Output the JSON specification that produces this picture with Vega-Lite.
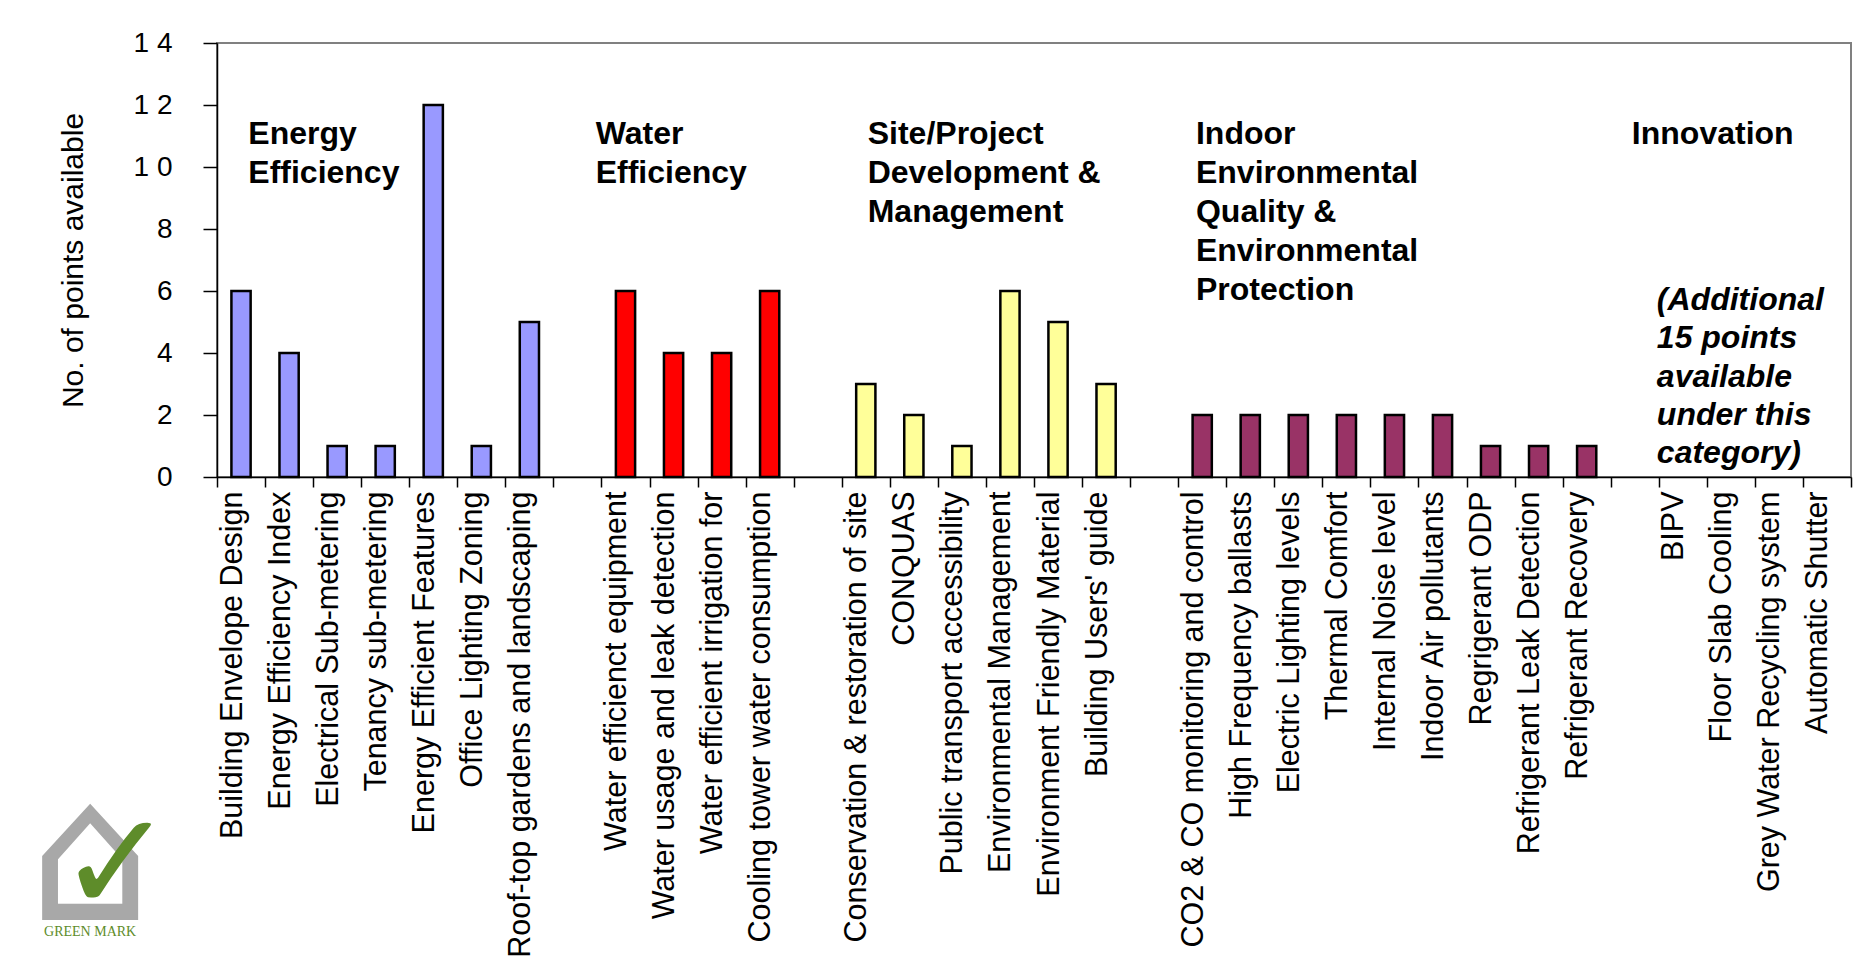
{
  "$schema": "https://vega.github.io/schema/vega-lite/v6.json",
  "autosize": {"type": "none"},
  "width": 1634,
  "height": 434,
  "padding": {"left": 217, "top": 43, "right": 24, "bottom": 489},
  "background": "white",
  "config": {
    "font": "Liberation Sans",
    "view": {"stroke": "#808080", "strokeWidth": 2},
    "axis": {"grid": false, "domainColor": "#000000", "domainWidth": 1.5, "tickColor": "#000000", "tickWidth": 1.5, "labelColor": "#000000", "titleColor": "#000000", "labelFont": "Liberation Sans", "titleFont": "Liberation Sans"}
  },
  "datasets": {
    "points": [
      {"item": "Building Envelope Design", "category": "Energy Efficiency", "points": 6},
      {"item": "Energy Efficiency Index", "category": "Energy Efficiency", "points": 4},
      {"item": "Electrical Sub-metering", "category": "Energy Efficiency", "points": 1},
      {"item": "Tenancy sub-metering", "category": "Energy Efficiency", "points": 1},
      {"item": "Energy Efficient Features", "category": "Energy Efficiency", "points": 12},
      {"item": "Office Lighting Zoning", "category": "Energy Efficiency", "points": 1},
      {"item": "Roof-top gardens and landscaping", "category": "Energy Efficiency", "points": 5},
      {"item": "Water efficienct equipment", "category": "Water Efficiency", "points": 6},
      {"item": "Water usage and leak detection", "category": "Water Efficiency", "points": 4},
      {"item": "Water efficient irrigation for", "category": "Water Efficiency", "points": 4},
      {"item": "Cooling tower water consumption", "category": "Water Efficiency", "points": 6},
      {"item": "Conservation & restoration of site", "category": "Site/Project Development & Management", "points": 3},
      {"item": "CONQUAS", "category": "Site/Project Development & Management", "points": 2},
      {"item": "Public transport accessibility", "category": "Site/Project Development & Management", "points": 1},
      {"item": "Environmental Management", "category": "Site/Project Development & Management", "points": 6},
      {"item": "Environment Friendly Material", "category": "Site/Project Development & Management", "points": 5},
      {"item": "Building Users' guide", "category": "Site/Project Development & Management", "points": 3},
      {"item": "CO2 & CO monitoring and control", "category": "Indoor Environmental Quality & Environmental Protection", "points": 2},
      {"item": "High Frequency ballasts", "category": "Indoor Environmental Quality & Environmental Protection", "points": 2},
      {"item": "Electric Lighting levels", "category": "Indoor Environmental Quality & Environmental Protection", "points": 2},
      {"item": "Thermal Comfort", "category": "Indoor Environmental Quality & Environmental Protection", "points": 2},
      {"item": "Internal Noise level", "category": "Indoor Environmental Quality & Environmental Protection", "points": 2},
      {"item": "Indoor Air pollutants", "category": "Indoor Environmental Quality & Environmental Protection", "points": 2},
      {"item": "Regrigerant ODP", "category": "Indoor Environmental Quality & Environmental Protection", "points": 1},
      {"item": "Refrigerant Leak Detection", "category": "Indoor Environmental Quality & Environmental Protection", "points": 1},
      {"item": "Refrigerant Recovery", "category": "Indoor Environmental Quality & Environmental Protection", "points": 1},
      {"item": "BIPV", "category": "Innovation", "points": null},
      {"item": "Floor Slab Cooling", "category": "Innovation", "points": null},
      {"item": "Grey Water Recycling system", "category": "Innovation", "points": null},
      {"item": "Automatic Shutter", "category": "Innovation", "points": null}
    ]
  },
  "resolve": {"scale": {"x": "independent"}},
  "layer": [
    {
      "data": {"name": "points"},
      "mark": {"type": "bar", "width": {"band": 0.4}, "stroke": "#000000", "strokeWidth": 2.5},
      "encoding": {
        "x": {
          "field": "item", "type": "nominal", "sort": null,
          "scale": {
            "domain": ["Building Envelope Design", "Energy Efficiency Index", "Electrical Sub-metering", "Tenancy sub-metering", "Energy Efficient Features", "Office Lighting Zoning", "Roof-top gardens and landscaping", " ",
              "Water efficienct equipment", "Water usage and leak detection", "Water efficient irrigation for", "Cooling tower water consumption", "  ",
              "Conservation & restoration of site", "CONQUAS", "Public transport accessibility", "Environmental Management", "Environment Friendly Material", "Building Users' guide", "   ",
              "CO2 & CO monitoring and control", "High Frequency ballasts", "Electric Lighting levels", "Thermal Comfort", "Internal Noise level", "Indoor Air pollutants", "Regrigerant ODP", "Refrigerant Leak Detection", "Refrigerant Recovery", "    ",
              "BIPV", "Floor Slab Cooling", "Grey Water Recycling system", "Automatic Shutter"],
            "paddingInner": 0, "paddingOuter": 0
          },
          "axis": {"title": null, "labelAngle": -90, "labelAlign": "right", "labelBaseline": "alphabetic", "labelFontSize": 30.5, "labelPadding": 4, "tickSize": 10, "tickBand": "extent", "labelLimit": 0, "labelOverlap": false}
        },
        "y": {
          "field": "points", "type": "quantitative",
          "scale": {"domain": [0, 14], "nice": false},
          "axis": {"title": "No. of points available", "values": [0, 2, 4, 6, 8, 10, 12, 14], "labelExpr": "datum.value == 14 ? '1 4' : datum.value == 12 ? '1 2' : datum.value == 10 ? '1 0' : datum.label", "labelFontSize": 28, "tickSize": 14, "labelPadding": 31, "titleFontSize": 30, "titleFontWeight": "normal", "titlePadding": 45}
        },
        "color": {
          "field": "category", "type": "nominal", "legend": null,
          "scale": {
            "domain": ["Energy Efficiency", "Water Efficiency", "Site/Project Development & Management", "Indoor Environmental Quality & Environmental Protection", "Innovation"],
            "range": ["#9999FF", "#FF0000", "#FFFF99", "#993366", "#FFFFFF"]
          }
        }
      }
    },
    {
      "data": {"values": [{}]},
      "layer": [
        {
          "mark": {"type": "text", "align": "left", "baseline": "alphabetic", "fontWeight": "bold", "fontSize": 32, "lineHeight": 39, "color": "#000000"},
          "encoding": {
            "x": {"datum": 0.651, "type": "quantitative", "scale": {"domain": [0, 34], "nice": false, "zero": false}, "axis": null},
            "y": {"datum": 10.74, "type": "quantitative"},
            "text": {"value": ["Energy", "Efficiency"]}
          }
        },
        {
          "mark": {"type": "text", "align": "left", "baseline": "alphabetic", "fontWeight": "bold", "fontSize": 32, "lineHeight": 39, "color": "#000000"},
          "encoding": {
            "x": {"datum": 7.88, "type": "quantitative"},
            "y": {"datum": 10.74, "type": "quantitative"},
            "text": {"value": ["Water", "Efficiency"]}
          }
        },
        {
          "mark": {"type": "text", "align": "left", "baseline": "alphabetic", "fontWeight": "bold", "fontSize": 32, "lineHeight": 39, "color": "#000000"},
          "encoding": {
            "x": {"datum": 13.54, "type": "quantitative"},
            "y": {"datum": 10.74, "type": "quantitative"},
            "text": {"value": ["Site/Project", "Development &", "Management"]}
          }
        },
        {
          "mark": {"type": "text", "align": "left", "baseline": "alphabetic", "fontWeight": "bold", "fontSize": 32, "lineHeight": 39, "color": "#000000"},
          "encoding": {
            "x": {"datum": 20.37, "type": "quantitative"},
            "y": {"datum": 10.74, "type": "quantitative"},
            "text": {"value": ["Indoor", "Environmental", "Quality &", "Environmental", "Protection"]}
          }
        },
        {
          "mark": {"type": "text", "align": "left", "baseline": "alphabetic", "fontWeight": "bold", "fontSize": 32, "lineHeight": 39, "color": "#000000"},
          "encoding": {
            "x": {"datum": 29.44, "type": "quantitative"},
            "y": {"datum": 10.74, "type": "quantitative"},
            "text": {"value": "Innovation"}
          }
        },
        {
          "mark": {"type": "text", "align": "left", "baseline": "alphabetic", "fontWeight": "bold", "fontStyle": "italic", "fontSize": 32, "lineHeight": 38.3, "color": "#000000"},
          "encoding": {
            "x": {"datum": 29.96, "type": "quantitative"},
            "y": {"datum": 5.39, "type": "quantitative"},
            "text": {"value": ["(Additional", "15 points", "available", "under this", "category)"]}
          }
        },
        {
          "mark": {"type": "text", "align": "center", "baseline": "alphabetic", "font": "DejaVu Sans", "fontSize": 195, "color": "#A8A8A8", "clip": false},
          "encoding": {
            "x": {"datum": -2.64, "type": "quantitative"},
            "y": {"datum": -14.3, "type": "quantitative"},
            "text": {"value": "⌂"}
          }
        },
        {
          "mark": {"type": "text", "align": "center", "baseline": "alphabetic", "font": "DejaVu Sans", "fontSize": 140, "color": "#5E8C2A", "clip": false},
          "encoding": {
            "x": {"datum": -2.1, "type": "quantitative"},
            "y": {"datum": -14.0, "type": "quantitative"},
            "text": {"value": "✓"}
          }
        },
        {
          "mark": {"type": "text", "align": "center", "baseline": "alphabetic", "font": "Liberation Serif", "fontSize": 14, "color": "#5E8C2A", "clip": false},
          "encoding": {
            "x": {"datum": -2.64, "type": "quantitative"},
            "y": {"datum": -14.8, "type": "quantitative"},
            "text": {"value": "GREEN MARK"}
          }
        }
      ]
    }
  ]
}
